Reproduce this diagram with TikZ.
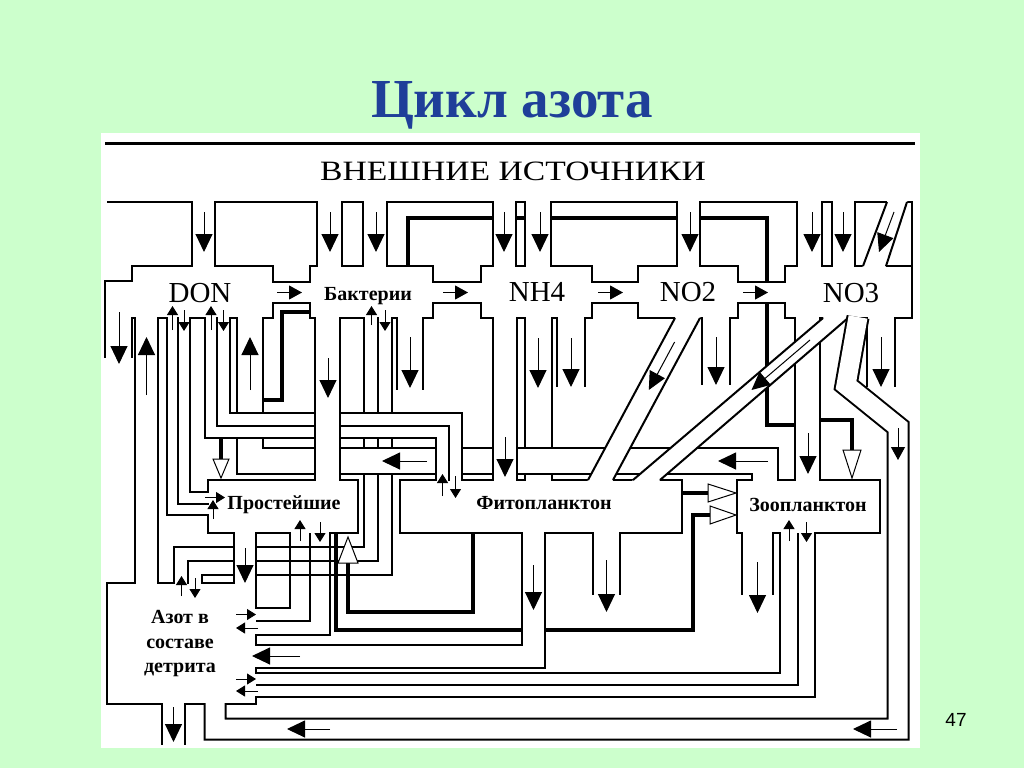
\documentclass[tikz,border=0pt]{standalone}
\usepackage{fontspec}
\setmainfont{Liberation Serif}
\newfontfamily\numfont{Liberation Sans}
\usetikzlibrary{arrows.meta}
\definecolor{slidegreen}{RGB}{204,255,204}
\definecolor{titleblue}{RGB}{31,63,153}

\begin{document}
\begin{tikzpicture}[x=1pt,y=-1pt,
    box/.style={draw,line width=2pt,fill=white},
    pipe/.style={line width=2pt,double=white,double distance=#1},
    wall/.style={line width=2pt},
    heavy/.style={line width=4pt},
    bigarr/.style={line width=1pt,-{Triangle[width=17pt,length=18pt]}},
    midarr/.style={line width=1pt,-{Triangle[width=14pt,length=13pt]}},
    smallarr/.style={line width=1pt,-{Triangle[width=11pt,length=9pt]}},
    openarr/.style={line width=1pt,fill=white},
    lbl/.style={font=\bfseries\fontsize{20}{22}\selectfont,inner sep=0pt,anchor=base},
    chem/.style={font=\fontsize{29}{30}\selectfont,inner sep=0pt,anchor=base}]
  \useasboundingbox (0,0) rectangle (1024,768);
  \fill[slidegreen] (0,0) rectangle (1024,768);
  \fill[white] (101,133) rectangle (920,748);
  \node[font=\bfseries\fontsize{55}{58}\selectfont,text=titleblue,anchor=base] (title) at (512,117) {Цикл азота};
  \node[font=\numfont\fontsize{19}{20}\selectfont,anchor=base] (pagenum) at (956,726) {47};

  % external sources
  \draw[line width=3pt] (105,143) -- (915,143);
  \node[font=\fontsize{28}{30}\selectfont,inner sep=0pt,anchor=base] (src) at (513,180) {\scalebox{1.2}[1]{ВНЕШНИЕ ИСТОЧНИКИ}};
  \draw[wall] (107,202) -- (912,202) -- (912,266);

  \draw[heavy] (408,266) -- (408,218) -- (767,218) -- (767,425) -- (795,425);
  \draw[heavy] (310,312) -- (282,312) -- (282,400) -- (263,400);

  % boxes
  \draw[box] (105,281) -- (132,281) -- (132,266) -- (273,266) -- (273,318) -- (105,318) -- cycle;
  \draw[box] (310,266) rectangle (433,318);
  \draw[box] (481,266) rectangle (592,318);
  \draw[box] (638,266) rectangle (738,318);
  \draw[box] (785,266) rectangle (912,318);
  \draw[box] (208,480) rectangle (358,533);
  \draw[box] (400,480) rectangle (682,533);
  \draw[box] (737,480) rectangle (880,533);
  \draw[box] (107,583) rectangle (256,704);

  % inflow from sources
  \foreach \x/\w in {203.5/21pt,329.5/23pt,375/22pt,504.5/21pt,538/24pt,688.5/21pt,809.5/23pt,843.5/21pt}
    \draw[pipe=\w] (\x,201) -- (\x,267);
  \fill[white] (887.5,200.5) -- (907.5,200.5) -- (885.5,267) -- (862.5,267) -- cycle;
  \draw[wall] (887,202) -- (863,266) (907,202) -- (886,266);

  \foreach \a/\b in {272/311,432/482,591/639,737/786}
    \draw[pipe=19pt] (\a,292.5) -- (\b,292.5);

  % losses
  \draw[pipe=25pt] (118.5,317) -- (118.5,358);
  \draw[pipe=24pt] (410,317) -- (410,390);
  \draw[pipe=26pt] (571,317) -- (571,387);
  \draw[pipe=26pt] (716,317) -- (716,385);
  \draw[pipe=26pt] (881,317) -- (881,387);
  \draw[pipe=25pt] (606.5,532) -- (606.5,595);
  \draw[pipe=29pt] (757.5,532) -- (757.5,595);
  \draw[pipe=21pt] (173.5,703) -- (173.5,745);

  % bacteria <-> detritus
  \draw[pipe=12.5pt] (371.5,317) -- (371.5,554.5) -- (181.5,554.5) -- (181.5,584);
  \draw[pipe=12pt] (385,317) -- (385,567.5) -- (195,567.5) -- (195,584);

  \draw[pipe=25pt] (538.5,317) -- (538.5,481);
  \draw[pipe=24pt] (764.5,481) -- (764.5,461) -- (250,461) -- (250,317);
  \draw[pipe=11pt] (211,317) -- (211,431) -- (442.5,431) -- (442.5,481);
  \draw[pipe=11pt] (223.5,317) -- (223.5,419) -- (455.5,419) -- (455.5,481);
  \draw[pipe=23pt] (327.5,317) -- (327.5,481);
  \draw[pipe=22pt] (505,317) -- (505,481);

  % diagonals
  \fill[white] (675.5,317) -- (700.5,317) -- (612.5,481) -- (587.5,481) -- cycle;
  \draw[wall] (675,318) -- (588,480) (700,318) -- (613,480);
  \draw[pipe=23pt] (807.5,317) -- (807.5,481);
  \fill[white] (824,317) -- (849,317) -- (659,481) -- (632,481) -- cycle;
  \draw[wall] (823,318) -- (633,480) (848,318) -- (660,480);
  \draw[pipe=19pt] (858,317) -- (846,385) -- (898,427) -- (898,729) -- (215,729) -- (215,703);

  \draw[pipe=10pt] (172.5,317) -- (172.5,509) -- (209,509);
  \draw[pipe=10pt] (184,317) -- (184,497.5) -- (209,497.5);
  \draw[pipe=21pt] (146.5,584) -- (146.5,317);
  \draw[pipe=20pt] (245,532) -- (245,584);

  \draw[heavy] (473,533) -- (473,612) -- (348,612) -- (348,563);
  \draw[heavy] (336,533) -- (336,630) -- (693,630) -- (693,515) -- (710,515);
  \draw[heavy] (682,493) -- (708,493);
  \draw[heavy] (821,420) -- (852,420) -- (852,450);
  \draw[heavy] (221,438) -- (221,460);

  \draw[pipe=21pt] (533.5,532) -- (533.5,656) -- (255,656);

  \fill[white] (291,531.5) rectangle (329,534.5);
  \fill[white] (254.5,609) rectangle (257.5,634);
  \draw[wall] (290,533) -- (290,608) -- (256,608) (310,533) -- (310,621) -- (256,621) (330,533) -- (330,635) -- (256,635);
  \fill[white] (781,531.5) rectangle (814,534.5);
  \fill[white] (254.5,674) rectangle (257.5,696);
  \draw[wall] (780,533) -- (780,673) -- (256,673) (798,533) -- (798,685) -- (256,685) (815,533) -- (815,697) -- (256,697);

  % arrows
  \foreach \x in {204,330,376,504,540,690,812,843}
    \draw[bigarr] (\x,212) -- (\x,252);
  \draw[bigarr] (894,212) -- (879,252);
  \foreach \x in {277,443,598,743}
    \draw[midarr] (\x,292.5) -- (\x+25,292.5);
  \draw[bigarr] (119,312) -- (119,364);
  \draw[bigarr] (146.5,395) -- (146.5,337);
  \draw[bigarr] (250,390) -- (250,337);
  \draw[bigarr] (328,358) -- (328,398);
  \draw[bigarr] (410,337) -- (410,388);
  \draw[bigarr] (505,437) -- (505,477);
  \draw[bigarr] (538,338) -- (538,388);
  \draw[bigarr] (571,338) -- (571,387);
  \draw[bigarr] (674.6,342) -- (648.8,390);
  \draw[bigarr] (716,337) -- (716,385);
  \draw[bigarr] (810,340) -- (751.5,390);
  \draw[bigarr] (881,337) -- (881,387);
  \draw[bigarr] (808,433) -- (808,474);
  \draw[midarr] (898,428) -- (898,460);
  \draw[bigarr] (897,729) -- (853,729);
  \draw[bigarr] (330,729) -- (287,729);
  \draw[bigarr] (533.5,565) -- (533.5,610);
  \draw[bigarr] (300,656) -- (252,656);
  \draw[bigarr] (606.5,560) -- (606.5,612);
  \draw[bigarr] (757.5,562) -- (757.5,613);
  \draw[bigarr] (768,461) -- (718,461);
  \draw[bigarr] (427,461) -- (382,461);
  \draw[bigarr] (245,548) -- (245,583);
  \draw[bigarr] (173.5,707) -- (173.5,742);

  \draw[smallarr] (172.5,330) -- (172.5,306);
  \draw[smallarr] (184,310) -- (184,331);
  \draw[smallarr] (211,330) -- (211,306);
  \draw[smallarr] (223.5,310) -- (223.5,331);
  \draw[smallarr] (371.5,325) -- (371.5,306);
  \draw[smallarr] (385,310) -- (385,331);
  \draw[smallarr] (442.5,496) -- (442.5,474);
  \draw[smallarr] (455.5,476) -- (455.5,498);
  \draw[smallarr] (205,497.5) -- (225,497.5);
  \draw[smallarr] (213,519) -- (213,500);
  \draw[smallarr] (300,541) -- (300,520);
  \draw[smallarr] (320,522) -- (320,542);
  \draw[smallarr] (181.5,596) -- (181.5,576);
  \draw[smallarr] (195,578) -- (195,598);
  \draw[smallarr] (236,614.5) -- (256,614.5);
  \draw[smallarr] (258,628) -- (236,628);
  \draw[smallarr] (236,679) -- (256,679);
  \draw[smallarr] (258,691) -- (236,691);
  \draw[smallarr] (789,541) -- (789,520);
  \draw[smallarr] (806.5,522) -- (806.5,542);

  \draw[openarr] (221,478) -- (213,459) -- (229,459) -- cycle;
  \draw[openarr] (348,537) -- (338,563) -- (358,563) -- cycle;
  \draw[openarr] (736,515) -- (710,506) -- (710,524) -- cycle;
  \draw[openarr] (736,493) -- (708,484) -- (708,502) -- cycle;
  \draw[openarr] (852,478) -- (843,450) -- (861,450) -- cycle;

  % labels
  \node[chem] (don) at (200,302) {DON};
  \node[lbl] (bakt) at (368,300) {Бактерии};
  \node[chem] (nh4) at (537,301) {NH4};
  \node[chem] (no2) at (688,301) {NO2};
  \node[chem] (no3) at (851,302) {NO3};
  \node[lbl] (prost) at (284,509) {Простейшие};
  \node[lbl] (fito) at (544,509) {Фитопланктон};
  \node[lbl] (zoo) at (808,511) {Зоопланктон};
  \node[lbl] (detr1) at (180,623) {Азот в};
  \node[lbl] (detr2) at (180,648) {составе};
  \node[lbl] (detr3) at (180,672) {детрита};
\end{tikzpicture}
\end{document}
